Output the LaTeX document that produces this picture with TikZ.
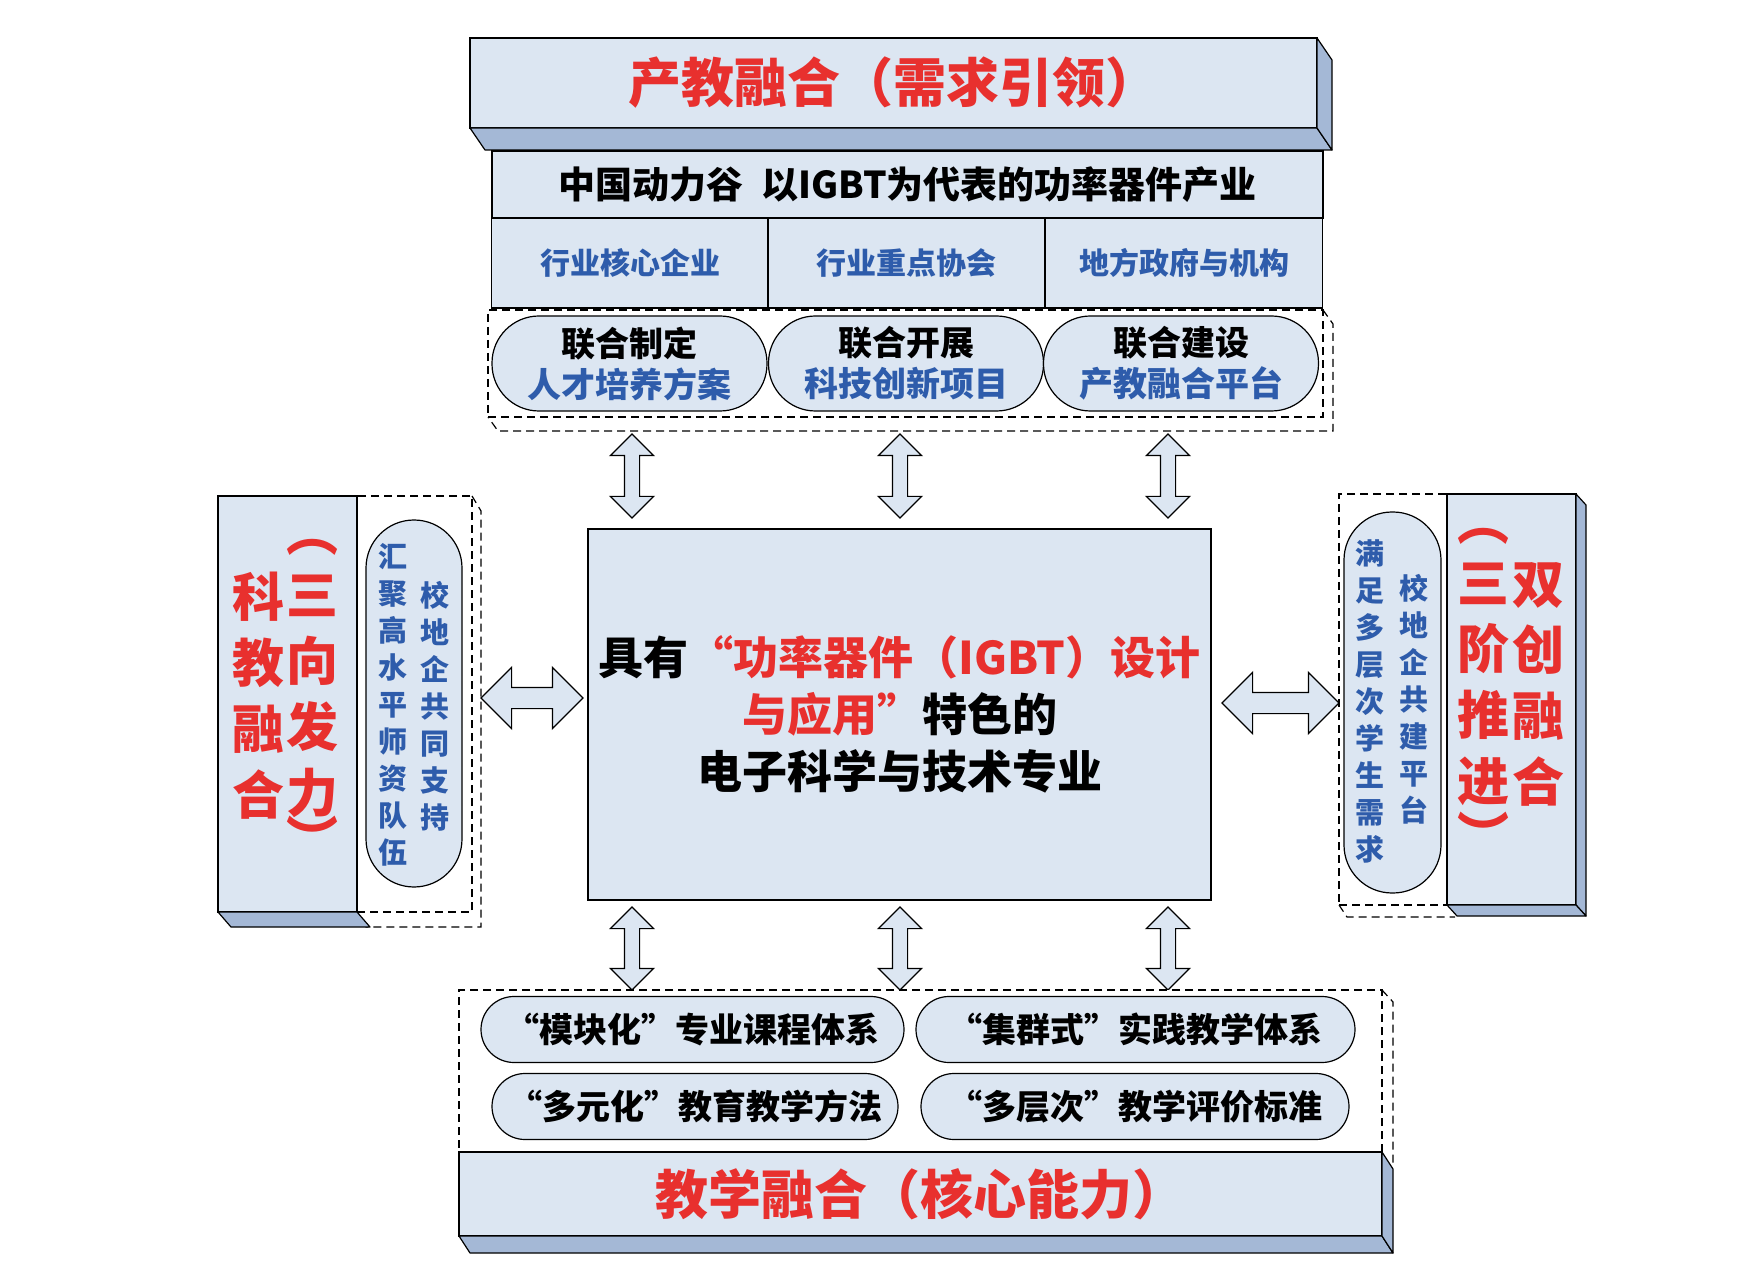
\documentclass[tikz,border=0pt]{standalone}
\usepackage{fontspec}
\setmainfont{Noto Sans CJK SC}
\usetikzlibrary{shapes.arrows,calc}
\definecolor{slabfill}{RGB}{220,230,242}
\definecolor{slabside}{RGB}{164,184,214}
\definecolor{titlered}{RGB}{232,48,46}
\definecolor{itemblue}{RGB}{46,92,171}

\begin{document}
\begin{tikzpicture}[x=0.5pt, y=-0.5pt,
    slab/.style={rectangle, draw, line width=0.6pt, fill=slabfill, inner sep=0pt, outer sep=0pt, align=center, font=\bfseries},
    side/.style={draw, line width=0.6pt, fill=slabside, line join=round},
    group/.style={rectangle, draw, line width=0.6pt, dash pattern=on 4pt off 2.5pt, fill=white, inner sep=0pt, outer sep=0pt},
    groupback/.style={draw, line width=0.6pt, dash pattern=on 4pt off 2.5pt},
    pill/.style={slab, rounded corners=#1},
    headtext/.style={font=\bfseries\fontsize{26.5}{30}\selectfont, text=titlered},
    cell/.style={slab, minimum width=138.5pt, minimum height=45pt, text=itemblue, font=\bfseries\fontsize{15}{18}\selectfont},
    topitem/.style={pill=23.5pt, minimum width=137.5pt, minimum height=47.5pt, font=\bfseries\fontsize{17}{20.5}\selectfont},
    bitem/.style={pill=16.5pt, minimum height=33pt, font=\bfseries\fontsize{17}{20}\selectfont},
    redcol/.style={align=center, inner sep=0pt, font=\bfseries\fontsize{26}{33}\selectfont, text=titlered},
    bluecol/.style={align=center, inner sep=0pt, font=\bfseries\fontsize{14.5}{18.5}\selectfont, text=itemblue},
    varrow/.style={double arrow, draw, line width=0.6pt, fill=slabfill, rotate=90, inner xsep=0pt, inner ysep=3.5pt, double arrow head extend=7pt, minimum height=42pt},
    harrow/.style={double arrow, draw, line width=0.6pt, fill=slabfill, inner xsep=0pt, inner ysep=5pt, double arrow head extend=10pt}
]
\useasboundingbox (0,0) rectangle (1747,1262);

\node[slab, headtext, minimum width=423.5pt, minimum height=45pt] (ttl) at (893.5,83) {产教融合（需求引领）};
\draw[side] (ttl.south west) -- (ttl.south east) -- ++(15,22) -- ($(ttl.south west)+(15,22)$) -- cycle;
\draw[side] (ttl.north east) -- ++(15,22) -- ($(ttl.south east)+(15,22)$) -- (ttl.south east) -- cycle;
\node[slab, minimum width=415.5pt, minimum height=33.5pt, font=\bfseries\fontsize{18.5}{22}\selectfont] (valley) at (907.5,184.5) {中国动力谷\hspace{0.5em}以IGBT为代表的功率器件产业};
\node[cell] (firms) at (630,263) {行业核心企业};
\node[cell] (assoc) at (906.5,263) {行业重点协会};
\node[cell] (gov) at (1184,263) {地方政府与机构};

\node[group, minimum width=417.5pt, minimum height=53.5pt] (coop) at (905.5,363.5) {};
\draw[groupback] (coop.north east) -- ++(10,14) -- ($(coop.south east)+(10,14)$) -- ($(coop.south west)+(10,14)$) -- (coop.south west);
\node[topitem] (plan) at (629.5,363.5) {联合制定\\\textcolor{itemblue}{人才培养方案}};
\node[topitem] (proj) at (906,363.5) {联合开展\\\textcolor{itemblue}{科技创新项目}};
\node[topitem] (plat) at (1181,363.5) {联合建设\\\textcolor{itemblue}{产教融合平台}};

\node[slab, minimum width=311.5pt, minimum height=185.5pt, font=\bfseries\fontsize{22.5}{28.5}\selectfont] (core) at (899.5,714.5)
  {具有\textcolor{titlered}{“功率器件（IGBT）设计}\\\textcolor{titlered}{与应用”}特色的\\电子科学与技术专业};

\node[varrow] (ua1) at (632,476) {};
\node[varrow] (ua2) at (900,476) {};
\node[varrow] (ua3) at (1168,476) {};
\node[varrow, minimum height=41.5pt] (da1) at (632,948.5) {};
\node[varrow, minimum height=41.5pt] (da2) at (900,948.5) {};
\node[varrow, minimum height=41.5pt] (da3) at (1168,948.5) {};

\node[group, minimum width=57.5pt, minimum height=208pt] (lgrp) at (414.5,704) {};
\draw[groupback] (lgrp.north east) -- ++(9,15) -- ($(lgrp.south east)+(9,15)$) -- ($(lgrp.south west)+(9,15)$) -- (lgrp.south west);
\node[slab, minimum width=69.5pt, minimum height=208pt] (lbox) at (287.5,704) {};
\draw[side] (lbox.south west) -- (lbox.south east) -- ++(13,15) -- ($(lbox.south west)+(13,15)$) -- cycle;
\node[redcol] (kjl) at (258,696) {科\\教\\融\\合};
\node[redcol] (kjr) at (312,696) {三\\向\\发\\力};
\node[redcol] (kjo) at (312,547) {︵};
\node[redcol] (kjc) at (312,838) {︶};
\node[pill=24pt, minimum width=48pt, minimum height=183.5pt] (lpill) at (414,703.5) {};
\node[bluecol] (lcol1) at (393,704.5) {汇\\聚\\高\\水\\平\\师\\资\\队\\伍};
\node[bluecol] (lcol2) at (435,706) {校\\地\\企\\共\\同\\支\\持};
\node[harrow, minimum height=51pt] (la) at (532,698) {};

\node[group, minimum width=54pt, minimum height=205.5pt] (rgrp) at (1393,699.5) {};
\draw[groupback] (rgrp.south west) -- ++(8,12) -- ($(rgrp.south east)+(8,12)$);
\node[slab, minimum width=64.5pt, minimum height=205.5pt] (rbox) at (1511.5,699.5) {};
\draw[side] (rbox.north east) -- ++(10,11) -- ($(rbox.south east)+(10,11)$) -- (rbox.south east) -- cycle;
\draw[side] (rbox.south west) -- (rbox.south east) -- ++(10,11) -- ($(rbox.south west)+(10,11)$) -- cycle;
\node[redcol] (sjl) at (1483,684) {三\\阶\\推\\进};
\node[redcol] (sjo) at (1483,536) {︵};
\node[redcol] (sjc) at (1483,834) {︶};
\node[redcol] (sjr) at (1538,684) {双\\创\\融\\合};
\node[pill=24pt, minimum width=48.5pt, minimum height=190.5pt] (rpill) at (1392.5,702.5) {};
\node[bluecol] (rcol1) at (1370,701.5) {满\\足\\多\\层\\次\\学\\生\\需\\求};
\node[bluecol] (rcol2) at (1414,699) {校\\地\\企\\共\\建\\平\\台};
\node[harrow, minimum height=58.5pt] (ra) at (1280.5,703) {};

\node[group, minimum width=461.5pt, minimum height=81pt] (bgrp) at (920.5,1071) {};
\draw[groupback] (bgrp.north east) -- ++(11,12) -- ($(bgrp.south east)+(11,12)$);
\node[bitem, minimum width=211.5pt] (modular) at (692.5,1029.5) {“模块化”专业课程体系};
\node[bitem, minimum width=219.5pt] (cluster) at (1135.5,1029.5) {“集群式”实践教学体系};
\node[bitem, minimum width=203pt] (diverse) at (695,1106.5) {“多元化”教育教学方法};
\node[bitem, minimum width=214pt] (layered) at (1135,1106.5) {“多层次”教学评价标准};
\node[slab, headtext, minimum width=461.5pt, minimum height=42pt] (btl) at (920.5,1194) {教学融合（核心能力）};
\draw[side] (btl.south west) -- (btl.south east) -- ++(11,17) -- ($(btl.south west)+(11,17)$) -- cycle;
\draw[side] (btl.north east) -- ++(11,17) -- ($(btl.south east)+(11,17)$) -- (btl.south east) -- cycle;
\end{tikzpicture}
\end{document}
